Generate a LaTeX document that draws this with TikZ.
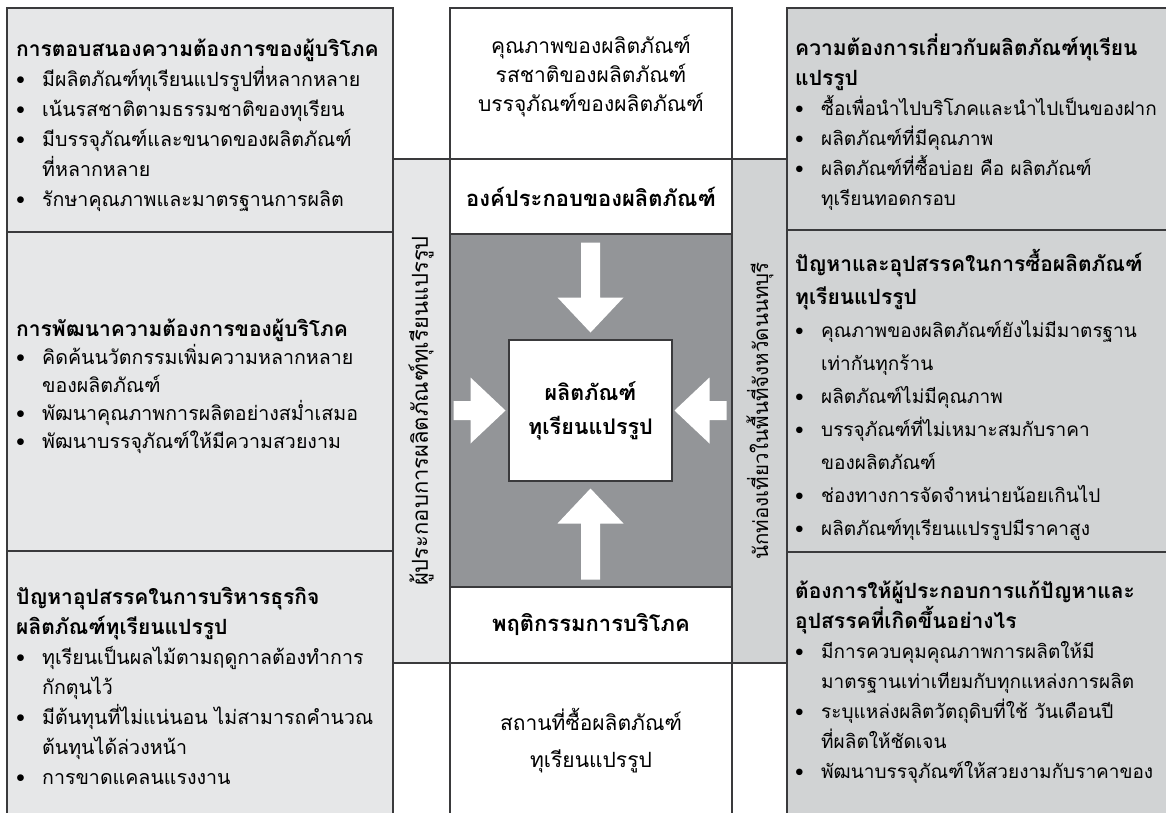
\documentclass[tikz,border=0pt]{standalone}
\usepackage{fontspec}
\setmainfont[Script=Thai]{Loma}
\usetikzlibrary{calc}

\definecolor{leftgray}{HTML}{E6E7E8}
\definecolor{rightgray}{HTML}{D1D3D4}
\definecolor{coregray}{HTML}{939598}
\definecolor{edgegray}{HTML}{3A3A3C}

\newcommand{\itm}{\makebox[26pt][l]{\textbullet}}
\newcommand{\gap}{\hspace*{26pt}}
\newcommand{\hd}[1]{{\fontsize{21}{30}\selectfont\bfseries #1}}

\begin{document}
\begin{tikzpicture}[x=1pt,y=-1pt,
  box/.style={draw=edgegray,line width=1.2pt},
  txt/.style={inner sep=0pt,align=left,anchor=west,font=\fontsize{19.6}{30}\selectfont},
  rtxt/.style={txt,font=\fontsize{19}{30}\selectfont},
  mid/.style={inner sep=0pt,align=center,font=\fontsize{21}{29}\selectfont},
  side/.style={inner sep=0pt,rotate=90}]

\useasboundingbox (0,0) rectangle (1166,812);
\clip (0,0) rectangle (1166,812);

% left column
\filldraw[box,fill=leftgray] (7,8) rectangle (393,232);
\filldraw[box,fill=leftgray] (7,232) rectangle (393,551);
\filldraw[box,fill=leftgray] (7,551) rectangle (393,830);

% right column
\filldraw[box,fill=rightgray] (787,8) rectangle (1190,230);
\filldraw[box,fill=rightgray] (787,230) rectangle (1190,552);
\filldraw[box,fill=rightgray] (787,552) rectangle (1190,830);

% side strips
\filldraw[box,fill=leftgray] (393,159) rectangle (450,663);
\filldraw[box,fill=rightgray] (732,159) rectangle (787,663);

% centre column
\filldraw[box,fill=white] (450,8) rectangle (732,159);
\filldraw[box,fill=white] (450,159) rectangle (732,234);
\filldraw[box,fill=coregray] (450,234) rectangle (732,587);
\filldraw[box,fill=white] (450,587) rectangle (732,663);
\filldraw[box,fill=white] (450,663) rectangle (732,830);

\node[box,fill=white,minimum width=163pt,minimum height=141pt,
  font=\fontsize{21.5}{34}\selectfont\bfseries,align=center] (prod) at (590.5,410.5)
  {ผลิตภัณฑ์\\ทุเรียนแปรรูป};

% block arrows
\foreach \a/\tip/\len in {90/78/90,270/78/91,180/85/52,0/84/52}
  \fill[white,rotate around={\a:(prod.center)}]
    ($(prod.center)+(\tip,0)$) -- ++(35,33) -- ++(0,-23.5) -- ++(\len-35,0)
    -- ++(0,-19) -- ++(35-\len,0) -- ++(0,-23.5) -- cycle;

% texts
\node[txt] (lt) at (16,125) {\hd{การตอบสนองความต้องการของผู้บริโภค}\\
  \itm มีผลิตภัณฑ์ทุเรียนแปรรูปที่หลากหลาย\\
  \itm เน้นรสชาติตามธรรมชาติของทุเรียน\\
  \itm มีบรรจุภัณฑ์และขนาดของผลิตภัณฑ์\\
  \gap ที่หลากหลาย\\
  \itm รักษาคุณภาพและมาตรฐานการผลิต};
\node[txt,font=\fontsize{19.6}{28}\selectfont] (lm) at (16,386) {\hd{การพัฒนาความต้องการของผู้บริโภค}\\
  \itm คิดค้นนวัตกรรมเพิ่มความหลากหลาย\\
  \gap ของผลิตภัณฑ์\\
  \itm พัฒนาคุณภาพการผลิตอย่างสม่ำเสมอ\\
  \itm พัฒนาบรรจุภัณฑ์ให้มีความสวยงาม};
\node[txt] (lb) at (16,686) {\hd{ปัญหาอุปสรรคในการบริหารธุรกิจ}\\
  \hd{ผลิตภัณฑ์ทุเรียนแปรรูป}\\
  \itm ทุเรียนเป็นผลไม้ตามฤดูกาลต้องทำการ\\
  \gap กักตุนไว้\\
  \itm มีต้นทุนที่ไม่แน่นอน ไม่สามารถคำนวณ\\
  \gap ต้นทุนได้ล่วงหน้า\\
  \itm การขาดแคลนแรงงาน};

\node[rtxt] (rt) at (795,122) {\hd{ความต้องการเกี่ยวกับผลิตภัณฑ์ทุเรียน}\\
  \hd{แปรรูป}\\
  \itm ซื้อเพื่อนำไปบริโภคและนำไปเป็นของฝาก\\
  \itm ผลิตภัณฑ์ที่มีคุณภาพ\\
  \itm ผลิตภัณฑ์ที่ซื้อบ่อย คือ ผลิตภัณฑ์\\
  \gap ทุเรียนทอดกรอบ};
\node[rtxt,font=\fontsize{19}{33}\selectfont] (rm) at (795,395) {\hd{ปัญหาและอุปสรรคในการซื้อผลิตภัณฑ์}\\
  \hd{ทุเรียนแปรรูป}\\
  \itm คุณภาพของผลิตภัณฑ์ยังไม่มีมาตรฐาน\\
  \gap เท่ากันทุกร้าน\\
  \itm ผลิตภัณฑ์ไม่มีคุณภาพ\\
  \itm บรรจุภัณฑ์ที่ไม่เหมาะสมกับราคา\\
  \gap ของผลิตภัณฑ์\\
  \itm ช่องทางการจัดจำหน่ายน้อยเกินไป\\
  \itm ผลิตภัณฑ์ทุเรียนแปรรูปมีราคาสูง};
\node[rtxt] (rb) at (795,682) {\hd{ต้องการให้ผู้ประกอบการแก้ปัญหาและ}\\
  \hd{อุปสรรคที่เกิดขึ้นอย่างไร}\\
  \itm มีการควบคุมคุณภาพการผลิตให้มี\\
  \gap มาตรฐานเท่าเทียมกับทุกแหล่งการผลิต\\
  \itm ระบุแหล่งผลิตวัตถุดิบที่ใช้ วันเดือนปี\\
  \gap ที่ผลิตให้ชัดเจน\\
  \itm พัฒนาบรรจุภัณฑ์ให้สวยงามกับราคาของ};

\node[mid] (qual) at (591,76) {คุณภาพของผลิตภัณฑ์\\รสชาติของผลิตภัณฑ์\\บรรจุภัณฑ์ของผลิตภัณฑ์};
\node[mid,font=\fontsize{22}{29}\selectfont\bfseries] (part) at (591,197) {องค์ประกอบของผลิตภัณฑ์};
\node[mid,font=\fontsize{22}{29}\selectfont\bfseries] (habit) at (591,625) {พฤติกรรมการบริโภค};
\node[mid,font=\fontsize{21}{37}\selectfont] (place) at (591,741) {สถานที่ซื้อผลิตภัณฑ์\\ทุเรียนแปรรูป};

\node[side,font=\fontsize{22}{26}\selectfont] (maker) at (421,411) {ผู้ประกอบการผลิตภัณฑ์ทุเรียนแปรรูป};
\node[side,font=\fontsize{20.5}{26}\selectfont] (tourist) at (760,411) {นักท่องเที่ยวในพื้นที่จังหวัดนนทบุรี};

\end{tikzpicture}
\end{document}
